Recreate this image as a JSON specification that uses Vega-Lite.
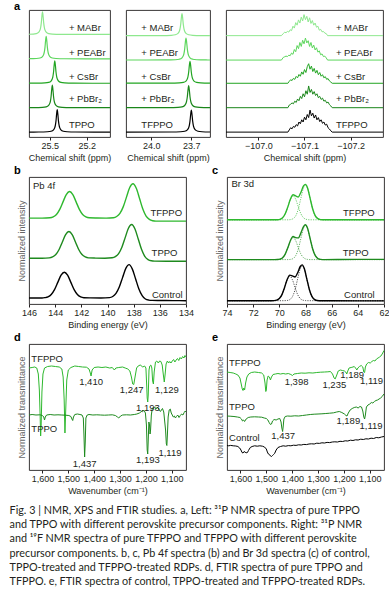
{
"$schema": "https://vega.github.io/schema/vega-lite/v6.json",
"background": "white",
"padding": {"left": 9, "top": 0, "right": 5, "bottom": 0},
"title": {"text": ["Fig. 3 | NMR, XPS and FTIR studies. a, Left: ³¹P NMR spectra of pure TPPO", "and TPPO with different perovskite precursor components. Right: ³¹P NMR", "and ¹⁹F NMR spectra of pure TFPPO and TFPPO with different perovskite", "precursor components. b, c, Pb 4f spectra (b) and Br 3d spectra (c) of control,", "TPPO-treated and TFPPO-treated RDPs. d, FTIR spectra of pure TPPO and", "TFPPO. e, FTIR spectra of control, TPPO-treated and TFPPO-treated RDPs."], "orient": "bottom", "anchor": "start", "frame": "bounds", "font": "Lato", "fontSize": 10.8, "fontWeight": "normal", "lineHeight": 14.2, "color": "#231f20", "offset": 9, "dx": -4},
"datasets": {
"a1": [
{"x":25.67,"y":4.208,"s":"MABr"},{"x":25.61,"y":4.235,"s":"MABr"},{"x":25.59,"y":4.292,"s":"MABr"},{"x":25.58,"y":4.384,"s":"MABr"},{"x":25.575,"y":4.483,"s":"MABr"},{"x":25.57,"y":4.66,"s":"MABr"},{"x":25.565,"y":4.936,"s":"MABr"},{"x":25.56,"y":5.12,"s":"MABr"},{"x":25.555,"y":4.936,"s":"MABr"},{"x":25.55,"y":4.66,"s":"MABr"},{"x":25.545,"y":4.483,"s":"MABr"},{"x":25.54,"y":4.384,"s":"MABr"},{"x":25.53,"y":4.292,"s":"MABr"},{"x":25.51,"y":4.235,"s":"MABr"},{"x":25.48,"y":4.214,"s":"MABr"},{"x":25.41,"y":4.204,"s":"MABr"},{"x":25.01,"y":4.2,"s":"MABr"},
{"x":25.67,"y":3.205,"s":"PEABr"},{"x":25.61,"y":3.214,"s":"PEABr"},{"x":25.58,"y":3.235,"s":"PEABr"},{"x":25.56,"y":3.292,"s":"PEABr"},{"x":25.55,"y":3.384,"s":"PEABr"},{"x":25.545,"y":3.483,"s":"PEABr"},{"x":25.54,"y":3.66,"s":"PEABr"},{"x":25.535,"y":3.936,"s":"PEABr"},{"x":25.53,"y":4.12,"s":"PEABr"},{"x":25.525,"y":3.936,"s":"PEABr"},{"x":25.52,"y":3.66,"s":"PEABr"},{"x":25.515,"y":3.483,"s":"PEABr"},{"x":25.51,"y":3.384,"s":"PEABr"},{"x":25.5,"y":3.292,"s":"PEABr"},{"x":25.48,"y":3.235,"s":"PEABr"},{"x":25.45,"y":3.214,"s":"PEABr"},{"x":25.38,"y":3.204,"s":"PEABr"},{"x":25.01,"y":3.2,"s":"PEABr"},
{"x":25.67,"y":2.202,"s":"CsBr"},{"x":25.61,"y":2.204,"s":"CsBr"},{"x":25.54,"y":2.214,"s":"CsBr"},{"x":25.51,"y":2.235,"s":"CsBr"},{"x":25.49,"y":2.292,"s":"CsBr"},{"x":25.48,"y":2.384,"s":"CsBr"},{"x":25.475,"y":2.483,"s":"CsBr"},{"x":25.47,"y":2.66,"s":"CsBr"},{"x":25.465,"y":2.936,"s":"CsBr"},{"x":25.46,"y":3.12,"s":"CsBr"},{"x":25.455,"y":2.936,"s":"CsBr"},{"x":25.45,"y":2.66,"s":"CsBr"},{"x":25.445,"y":2.483,"s":"CsBr"},{"x":25.44,"y":2.384,"s":"CsBr"},{"x":25.43,"y":2.292,"s":"CsBr"},{"x":25.41,"y":2.235,"s":"CsBr"},{"x":25.38,"y":2.214,"s":"CsBr"},{"x":25.31,"y":2.204,"s":"CsBr"},{"x":25.01,"y":2.2,"s":"CsBr"},
{"x":25.67,"y":1.203,"s":"PbBr2"},{"x":25.63,"y":1.204,"s":"PbBr2"},{"x":25.56,"y":1.214,"s":"PbBr2"},{"x":25.53,"y":1.235,"s":"PbBr2"},{"x":25.51,"y":1.292,"s":"PbBr2"},{"x":25.5,"y":1.384,"s":"PbBr2"},{"x":25.495,"y":1.483,"s":"PbBr2"},{"x":25.49,"y":1.66,"s":"PbBr2"},{"x":25.485,"y":1.936,"s":"PbBr2"},{"x":25.48,"y":2.12,"s":"PbBr2"},{"x":25.475,"y":1.936,"s":"PbBr2"},{"x":25.47,"y":1.66,"s":"PbBr2"},{"x":25.465,"y":1.483,"s":"PbBr2"},{"x":25.46,"y":1.384,"s":"PbBr2"},{"x":25.45,"y":1.292,"s":"PbBr2"},{"x":25.43,"y":1.235,"s":"PbBr2"},{"x":25.4,"y":1.214,"s":"PbBr2"},{"x":25.33,"y":1.204,"s":"PbBr2"},{"x":25.01,"y":1.2,"s":"PbBr2"},
{"x":25.67,"y":0.202,"s":"pure"},{"x":25.59,"y":0.204,"s":"pure"},{"x":25.52,"y":0.214,"s":"pure"},{"x":25.49,"y":0.235,"s":"pure"},{"x":25.47,"y":0.292,"s":"pure"},{"x":25.46,"y":0.384,"s":"pure"},{"x":25.455,"y":0.483,"s":"pure"},{"x":25.45,"y":0.66,"s":"pure"},{"x":25.445,"y":0.936,"s":"pure"},{"x":25.44,"y":1.12,"s":"pure"},{"x":25.435,"y":0.936,"s":"pure"},{"x":25.43,"y":0.66,"s":"pure"},{"x":25.425,"y":0.483,"s":"pure"},{"x":25.42,"y":0.384,"s":"pure"},{"x":25.41,"y":0.292,"s":"pure"},{"x":25.39,"y":0.235,"s":"pure"},{"x":25.36,"y":0.214,"s":"pure"},{"x":25.29,"y":0.204,"s":"pure"},{"x":25.01,"y":0.2,"s":"pure"}
],
"a2": [
{"x":24.19,"y":4.152,"s":"MABr"},{"x":23.92,"y":4.154,"s":"MABr"},{"x":23.85,"y":4.164,"s":"MABr"},{"x":23.82,"y":4.185,"s":"MABr"},{"x":23.8,"y":4.24,"s":"MABr"},{"x":23.79,"y":4.33,"s":"MABr"},{"x":23.785,"y":4.427,"s":"MABr"},{"x":23.78,"y":4.6,"s":"MABr"},{"x":23.775,"y":4.87,"s":"MABr"},{"x":23.77,"y":5.05,"s":"MABr"},{"x":23.765,"y":4.87,"s":"MABr"},{"x":23.76,"y":4.6,"s":"MABr"},{"x":23.755,"y":4.427,"s":"MABr"},{"x":23.75,"y":4.33,"s":"MABr"},{"x":23.74,"y":4.24,"s":"MABr"},{"x":23.72,"y":4.185,"s":"MABr"},{"x":23.69,"y":4.164,"s":"MABr"},{"x":23.62,"y":4.154,"s":"MABr"},{"x":23.56,"y":4.152,"s":"MABr"},
{"x":24.19,"y":3.152,"s":"PEABr"},{"x":23.89,"y":3.154,"s":"PEABr"},{"x":23.82,"y":3.164,"s":"PEABr"},{"x":23.79,"y":3.185,"s":"PEABr"},{"x":23.77,"y":3.24,"s":"PEABr"},{"x":23.76,"y":3.33,"s":"PEABr"},{"x":23.755,"y":3.427,"s":"PEABr"},{"x":23.75,"y":3.6,"s":"PEABr"},{"x":23.745,"y":3.87,"s":"PEABr"},{"x":23.74,"y":4.05,"s":"PEABr"},{"x":23.735,"y":3.87,"s":"PEABr"},{"x":23.73,"y":3.6,"s":"PEABr"},{"x":23.725,"y":3.427,"s":"PEABr"},{"x":23.72,"y":3.33,"s":"PEABr"},{"x":23.71,"y":3.24,"s":"PEABr"},{"x":23.69,"y":3.185,"s":"PEABr"},{"x":23.66,"y":3.164,"s":"PEABr"},{"x":23.59,"y":3.154,"s":"PEABr"},{"x":23.56,"y":3.153,"s":"PEABr"},
{"x":24.19,"y":2.202,"s":"CsBr"},{"x":23.86,"y":2.204,"s":"CsBr"},{"x":23.79,"y":2.214,"s":"CsBr"},{"x":23.76,"y":2.235,"s":"CsBr"},{"x":23.74,"y":2.29,"s":"CsBr"},{"x":23.73,"y":2.38,"s":"CsBr"},{"x":23.725,"y":2.477,"s":"CsBr"},{"x":23.72,"y":2.65,"s":"CsBr"},{"x":23.715,"y":2.92,"s":"CsBr"},{"x":23.71,"y":3.1,"s":"CsBr"},{"x":23.705,"y":2.92,"s":"CsBr"},{"x":23.7,"y":2.65,"s":"CsBr"},{"x":23.695,"y":2.477,"s":"CsBr"},{"x":23.69,"y":2.38,"s":"CsBr"},{"x":23.68,"y":2.29,"s":"CsBr"},{"x":23.66,"y":2.235,"s":"CsBr"},{"x":23.63,"y":2.214,"s":"CsBr"},{"x":23.56,"y":2.204,"s":"CsBr"},
{"x":24.19,"y":1.202,"s":"PbBr2"},{"x":23.87,"y":1.204,"s":"PbBr2"},{"x":23.8,"y":1.214,"s":"PbBr2"},{"x":23.77,"y":1.235,"s":"PbBr2"},{"x":23.75,"y":1.29,"s":"PbBr2"},{"x":23.74,"y":1.38,"s":"PbBr2"},{"x":23.735,"y":1.477,"s":"PbBr2"},{"x":23.73,"y":1.65,"s":"PbBr2"},{"x":23.725,"y":1.92,"s":"PbBr2"},{"x":23.72,"y":2.1,"s":"PbBr2"},{"x":23.715,"y":1.92,"s":"PbBr2"},{"x":23.71,"y":1.65,"s":"PbBr2"},{"x":23.705,"y":1.477,"s":"PbBr2"},{"x":23.7,"y":1.38,"s":"PbBr2"},{"x":23.69,"y":1.29,"s":"PbBr2"},{"x":23.67,"y":1.235,"s":"PbBr2"},{"x":23.64,"y":1.214,"s":"PbBr2"},{"x":23.57,"y":1.204,"s":"PbBr2"},{"x":23.56,"y":1.204,"s":"PbBr2"},
{"x":24.19,"y":0.202,"s":"pure"},{"x":23.85,"y":0.204,"s":"pure"},{"x":23.78,"y":0.214,"s":"pure"},{"x":23.75,"y":0.235,"s":"pure"},{"x":23.73,"y":0.29,"s":"pure"},{"x":23.72,"y":0.38,"s":"pure"},{"x":23.715,"y":0.477,"s":"pure"},{"x":23.71,"y":0.65,"s":"pure"},{"x":23.705,"y":0.92,"s":"pure"},{"x":23.7,"y":1.1,"s":"pure"},{"x":23.695,"y":0.92,"s":"pure"},{"x":23.69,"y":0.65,"s":"pure"},{"x":23.685,"y":0.477,"s":"pure"},{"x":23.68,"y":0.38,"s":"pure"},{"x":23.67,"y":0.29,"s":"pure"},{"x":23.65,"y":0.235,"s":"pure"},{"x":23.62,"y":0.214,"s":"pure"},{"x":23.56,"y":0.205,"s":"pure"}
],
"a3": [
{"x":-106.93,"y":4.15,"s":"MABr"},{"x":-107.05,"y":4.15,"s":"MABr"},{"x":-107.054,"y":4.236,"s":"MABr"},{"x":-107.057,"y":4.288,"s":"MABr"},{"x":-107.06,"y":4.27,"s":"MABr"},{"x":-107.063,"y":4.322,"s":"MABr"},{"x":-107.066,"y":4.296,"s":"MABr"},{"x":-107.069,"y":4.391,"s":"MABr"},{"x":-107.072,"y":4.356,"s":"MABr"},{"x":-107.075,"y":4.537,"s":"MABr"},{"x":-107.078,"y":4.46,"s":"MABr"},{"x":-107.081,"y":4.683,"s":"MABr"},{"x":-107.084,"y":4.58,"s":"MABr"},{"x":-107.087,"y":4.795,"s":"MABr"},{"x":-107.09,"y":4.666,"s":"MABr"},{"x":-107.093,"y":4.907,"s":"MABr"},{"x":-107.096,"y":4.752,"s":"MABr"},{"x":-107.099,"y":5.01,"s":"MABr"},{"x":-107.102,"y":4.804,"s":"MABr"},{"x":-107.105,"y":4.941,"s":"MABr"},{"x":-107.108,"y":4.709,"s":"MABr"},{"x":-107.111,"y":4.881,"s":"MABr"},{"x":-107.114,"y":4.649,"s":"MABr"},{"x":-107.117,"y":4.769,"s":"MABr"},{"x":-107.12,"y":4.58,"s":"MABr"},{"x":-107.123,"y":4.666,"s":"MABr"},{"x":-107.126,"y":4.494,"s":"MABr"},{"x":-107.129,"y":4.537,"s":"MABr"},{"x":-107.132,"y":4.374,"s":"MABr"},{"x":-107.135,"y":4.408,"s":"MABr"},{"x":-107.138,"y":4.305,"s":"MABr"},{"x":-107.141,"y":4.322,"s":"MABr"},{"x":-107.144,"y":4.253,"s":"MABr"},{"x":-107.147,"y":4.236,"s":"MABr"},{"x":-107.15,"y":4.15,"s":"MABr"},{"x":-107.27,"y":4.15,"s":"MABr"},
{"x":-106.93,"y":3.15,"s":"PEABr"},{"x":-107.05,"y":3.15,"s":"PEABr"},{"x":-107.054,"y":3.258,"s":"PEABr"},{"x":-107.057,"y":3.285,"s":"PEABr"},{"x":-107.06,"y":3.312,"s":"PEABr"},{"x":-107.063,"y":3.294,"s":"PEABr"},{"x":-107.066,"y":3.348,"s":"PEABr"},{"x":-107.069,"y":3.33,"s":"PEABr"},{"x":-107.072,"y":3.438,"s":"PEABr"},{"x":-107.075,"y":3.384,"s":"PEABr"},{"x":-107.078,"y":3.582,"s":"PEABr"},{"x":-107.081,"y":3.492,"s":"PEABr"},{"x":-107.084,"y":3.744,"s":"PEABr"},{"x":-107.087,"y":3.618,"s":"PEABr"},{"x":-107.09,"y":3.87,"s":"PEABr"},{"x":-107.093,"y":3.708,"s":"PEABr"},{"x":-107.096,"y":3.96,"s":"PEABr"},{"x":-107.099,"y":3.816,"s":"PEABr"},{"x":-107.102,"y":4.05,"s":"PEABr"},{"x":-107.105,"y":3.852,"s":"PEABr"},{"x":-107.108,"y":3.942,"s":"PEABr"},{"x":-107.111,"y":3.708,"s":"PEABr"},{"x":-107.114,"y":3.87,"s":"PEABr"},{"x":-107.117,"y":3.645,"s":"PEABr"},{"x":-107.12,"y":3.762,"s":"PEABr"},{"x":-107.123,"y":3.564,"s":"PEABr"},{"x":-107.126,"y":3.654,"s":"PEABr"},{"x":-107.129,"y":3.474,"s":"PEABr"},{"x":-107.132,"y":3.528,"s":"PEABr"},{"x":-107.135,"y":3.366,"s":"PEABr"},{"x":-107.138,"y":3.402,"s":"PEABr"},{"x":-107.141,"y":3.294,"s":"PEABr"},{"x":-107.144,"y":3.312,"s":"PEABr"},{"x":-107.147,"y":3.24,"s":"PEABr"},{"x":-107.15,"y":3.15,"s":"PEABr"},{"x":-107.27,"y":3.15,"s":"PEABr"},
{"x":-106.93,"y":2.2,"s":"CsBr"},{"x":-107.064,"y":2.2,"s":"CsBr"},{"x":-107.067,"y":2.28,"s":"CsBr"},{"x":-107.07,"y":2.344,"s":"CsBr"},{"x":-107.073,"y":2.312,"s":"CsBr"},{"x":-107.076,"y":2.4,"s":"CsBr"},{"x":-107.079,"y":2.36,"s":"CsBr"},{"x":-107.082,"y":2.48,"s":"CsBr"},{"x":-107.085,"y":2.424,"s":"CsBr"},{"x":-107.088,"y":2.56,"s":"CsBr"},{"x":-107.091,"y":2.488,"s":"CsBr"},{"x":-107.094,"y":2.664,"s":"CsBr"},{"x":-107.097,"y":2.568,"s":"CsBr"},{"x":-107.1,"y":2.76,"s":"CsBr"},{"x":-107.103,"y":2.64,"s":"CsBr"},{"x":-107.106,"y":2.88,"s":"CsBr"},{"x":-107.109,"y":3.0,"s":"CsBr"},{"x":-107.112,"y":2.776,"s":"CsBr"},{"x":-107.115,"y":2.904,"s":"CsBr"},{"x":-107.118,"y":2.68,"s":"CsBr"},{"x":-107.121,"y":2.808,"s":"CsBr"},{"x":-107.124,"y":2.616,"s":"CsBr"},{"x":-107.127,"y":2.728,"s":"CsBr"},{"x":-107.13,"y":2.552,"s":"CsBr"},{"x":-107.133,"y":2.64,"s":"CsBr"},{"x":-107.136,"y":2.488,"s":"CsBr"},{"x":-107.139,"y":2.552,"s":"CsBr"},{"x":-107.142,"y":2.424,"s":"CsBr"},{"x":-107.145,"y":2.472,"s":"CsBr"},{"x":-107.148,"y":2.36,"s":"CsBr"},{"x":-107.151,"y":2.392,"s":"CsBr"},{"x":-107.154,"y":2.296,"s":"CsBr"},{"x":-107.157,"y":2.248,"s":"CsBr"},{"x":-107.16,"y":2.2,"s":"CsBr"},{"x":-107.27,"y":2.2,"s":"CsBr"},
{"x":-106.93,"y":1.2,"s":"PbBr2"},{"x":-107.064,"y":1.2,"s":"PbBr2"},{"x":-107.067,"y":1.307,"s":"PbBr2"},{"x":-107.07,"y":1.342,"s":"PbBr2"},{"x":-107.073,"y":1.396,"s":"PbBr2"},{"x":-107.076,"y":1.36,"s":"PbBr2"},{"x":-107.079,"y":1.467,"s":"PbBr2"},{"x":-107.082,"y":1.414,"s":"PbBr2"},{"x":-107.085,"y":1.556,"s":"PbBr2"},{"x":-107.088,"y":1.485,"s":"PbBr2"},{"x":-107.091,"y":1.663,"s":"PbBr2"},{"x":-107.094,"y":1.574,"s":"PbBr2"},{"x":-107.097,"y":1.77,"s":"PbBr2"},{"x":-107.1,"y":1.645,"s":"PbBr2"},{"x":-107.103,"y":1.894,"s":"PbBr2"},{"x":-107.106,"y":1.752,"s":"PbBr2"},{"x":-107.109,"y":2.09,"s":"PbBr2"},{"x":-107.112,"y":1.823,"s":"PbBr2"},{"x":-107.115,"y":1.948,"s":"PbBr2"},{"x":-107.118,"y":1.752,"s":"PbBr2"},{"x":-107.121,"y":1.859,"s":"PbBr2"},{"x":-107.124,"y":1.698,"s":"PbBr2"},{"x":-107.127,"y":1.77,"s":"PbBr2"},{"x":-107.13,"y":1.609,"s":"PbBr2"},{"x":-107.133,"y":1.663,"s":"PbBr2"},{"x":-107.136,"y":1.538,"s":"PbBr2"},{"x":-107.139,"y":1.592,"s":"PbBr2"},{"x":-107.142,"y":1.467,"s":"PbBr2"},{"x":-107.145,"y":1.503,"s":"PbBr2"},{"x":-107.148,"y":1.396,"s":"PbBr2"},{"x":-107.151,"y":1.431,"s":"PbBr2"},{"x":-107.154,"y":1.325,"s":"PbBr2"},{"x":-107.157,"y":1.271,"s":"PbBr2"},{"x":-107.16,"y":1.2,"s":"PbBr2"},{"x":-107.27,"y":1.2,"s":"PbBr2"},
{"x":-106.93,"y":0.2,"s":"pure"},{"x":-107.064,"y":0.2,"s":"pure"},{"x":-107.067,"y":0.29,"s":"pure"},{"x":-107.07,"y":0.38,"s":"pure"},{"x":-107.073,"y":0.335,"s":"pure"},{"x":-107.076,"y":0.434,"s":"pure"},{"x":-107.079,"y":0.398,"s":"pure"},{"x":-107.082,"y":0.506,"s":"pure"},{"x":-107.085,"y":0.452,"s":"pure"},{"x":-107.088,"y":0.614,"s":"pure"},{"x":-107.091,"y":0.542,"s":"pure"},{"x":-107.094,"y":0.704,"s":"pure"},{"x":-107.097,"y":0.614,"s":"pure"},{"x":-107.1,"y":0.812,"s":"pure"},{"x":-107.103,"y":0.704,"s":"pure"},{"x":-107.106,"y":0.92,"s":"pure"},{"x":-107.109,"y":0.794,"s":"pure"},{"x":-107.112,"y":1.1,"s":"pure"},{"x":-107.115,"y":0.866,"s":"pure"},{"x":-107.118,"y":0.974,"s":"pure"},{"x":-107.121,"y":0.776,"s":"pure"},{"x":-107.124,"y":0.902,"s":"pure"},{"x":-107.127,"y":0.704,"s":"pure"},{"x":-107.13,"y":0.794,"s":"pure"},{"x":-107.133,"y":0.632,"s":"pure"},{"x":-107.136,"y":0.704,"s":"pure"},{"x":-107.139,"y":0.56,"s":"pure"},{"x":-107.142,"y":0.614,"s":"pure"},{"x":-107.145,"y":0.488,"s":"pure"},{"x":-107.148,"y":0.524,"s":"pure"},{"x":-107.151,"y":0.38,"s":"pure"},{"x":-107.154,"y":0.326,"s":"pure"},{"x":-107.157,"y":0.254,"s":"pure"},{"x":-107.16,"y":0.2,"s":"pure"},{"x":-107.27,"y":0.2,"s":"pure"}
],
"a1t": [{"x":25.345,"y":4.45,"t":"+ MABr"},{"x":25.345,"y":3.44,"t":"+ PEABr"},{"x":25.345,"y":2.47,"t":"+ CsBr"},{"x":25.345,"y":1.55,"t":"+ PbBr₂"},{"x":25.345,"y":0.49,"t":"TPPO"}],
"a2t": [{"x":24.075,"y":4.45,"t":"+ MABr"},{"x":24.075,"y":3.44,"t":"+ PEABr"},{"x":24.075,"y":2.47,"t":"+ CsBr"},{"x":24.075,"y":1.55,"t":"+ PbBr₂"},{"x":24.075,"y":0.49,"t":"TFPPO"}],
"a3t": [{"x":-107.168,"y":4.45,"t":"+ MABr"},{"x":-107.168,"y":3.44,"t":"+ PEABr"},{"x":-107.168,"y":2.47,"t":"+ CsBr"},{"x":-107.168,"y":1.55,"t":"+ PbBr₂"},{"x":-107.168,"y":0.49,"t":"TFPPO"}],
"b": [
{"x":146,"y":0.6,"s":"Control"},{"x":145,"y":0.6,"s":"Control"},{"x":144.8,"y":0.63,"s":"Control"},{"x":144.55,"y":0.71,"s":"Control"},{"x":144.3,"y":0.95,"s":"Control"},{"x":144.05,"y":1.44,"s":"Control"},{"x":143.8,"y":2.16,"s":"Control"},{"x":143.55,"y":2.87,"s":"Control"},{"x":143.3,"y":3.17,"s":"Control"},{"x":143.05,"y":2.87,"s":"Control"},{"x":142.8,"y":2.16,"s":"Control"},{"x":142.55,"y":1.44,"s":"Control"},{"x":142.3,"y":0.95,"s":"Control"},{"x":142.05,"y":0.71,"s":"Control"},{"x":141.8,"y":0.63,"s":"Control"},{"x":141.3,"y":0.61,"s":"Control"},{"x":140.5,"y":0.6,"s":"Control"},{"x":139.85,"y":0.64,"s":"Control"},{"x":139.6,"y":0.75,"s":"Control"},{"x":139.35,"y":1.06,"s":"Control"},{"x":139.1,"y":1.69,"s":"Control"},{"x":138.85,"y":2.63,"s":"Control"},{"x":138.6,"y":3.55,"s":"Control"},{"x":138.35,"y":3.93,"s":"Control"},{"x":138.1,"y":3.48,"s":"Control"},{"x":137.85,"y":2.5,"s":"Control"},{"x":137.6,"y":1.5,"s":"Control"},{"x":137.35,"y":0.83,"s":"Control"},{"x":137.1,"y":0.5,"s":"Control"},{"x":136.85,"y":0.39,"s":"Control"},{"x":136.6,"y":0.36,"s":"Control"},{"x":136,"y":0.35,"s":"Control"},{"x":135,"y":0.34,"s":"Control"},{"x":134,"y":0.33,"s":"Control"},
{"x":146,"y":4.57,"s":"TPPO"},{"x":145,"y":4.57,"s":"TPPO"},{"x":144.45,"y":4.6,"s":"TPPO"},{"x":144.2,"y":4.69,"s":"TPPO"},{"x":143.95,"y":4.93,"s":"TPPO"},{"x":143.7,"y":5.44,"s":"TPPO"},{"x":143.45,"y":6.19,"s":"TPPO"},{"x":143.2,"y":6.92,"s":"TPPO"},{"x":142.95,"y":7.23,"s":"TPPO"},{"x":142.7,"y":6.92,"s":"TPPO"},{"x":142.45,"y":6.19,"s":"TPPO"},{"x":142.2,"y":5.44,"s":"TPPO"},{"x":141.95,"y":4.93,"s":"TPPO"},{"x":141.7,"y":4.69,"s":"TPPO"},{"x":141.45,"y":4.6,"s":"TPPO"},{"x":140.9,"y":4.58,"s":"TPPO"},{"x":140.2,"y":4.57,"s":"TPPO"},{"x":139.65,"y":4.61,"s":"TPPO"},{"x":139.4,"y":4.72,"s":"TPPO"},{"x":139.15,"y":5.03,"s":"TPPO"},{"x":138.9,"y":5.67,"s":"TPPO"},{"x":138.65,"y":6.62,"s":"TPPO"},{"x":138.4,"y":7.56,"s":"TPPO"},{"x":138.15,"y":7.93,"s":"TPPO"},{"x":137.9,"y":7.48,"s":"TPPO"},{"x":137.65,"y":6.48,"s":"TPPO"},{"x":137.4,"y":5.46,"s":"TPPO"},{"x":137.15,"y":4.76,"s":"TPPO"},{"x":136.9,"y":4.43,"s":"TPPO"},{"x":136.65,"y":4.31,"s":"TPPO"},{"x":136.4,"y":4.28,"s":"TPPO"},{"x":135.5,"y":4.27,"s":"TPPO"},{"x":134,"y":4.27,"s":"TPPO"},
{"x":146,"y":8.57,"s":"TFPPO"},{"x":145,"y":8.57,"s":"TFPPO"},{"x":144.4,"y":8.6,"s":"TFPPO"},{"x":144.15,"y":8.69,"s":"TFPPO"},{"x":143.9,"y":8.93,"s":"TFPPO"},{"x":143.65,"y":9.44,"s":"TFPPO"},{"x":143.4,"y":10.19,"s":"TFPPO"},{"x":143.15,"y":10.92,"s":"TFPPO"},{"x":142.9,"y":11.23,"s":"TFPPO"},{"x":142.65,"y":10.92,"s":"TFPPO"},{"x":142.4,"y":10.19,"s":"TFPPO"},{"x":142.15,"y":9.44,"s":"TFPPO"},{"x":141.9,"y":8.93,"s":"TFPPO"},{"x":141.65,"y":8.69,"s":"TFPPO"},{"x":141.4,"y":8.6,"s":"TFPPO"},{"x":140.8,"y":8.58,"s":"TFPPO"},{"x":140.1,"y":8.57,"s":"TFPPO"},{"x":139.55,"y":8.61,"s":"TFPPO"},{"x":139.3,"y":8.73,"s":"TFPPO"},{"x":139.05,"y":9.04,"s":"TFPPO"},{"x":138.8,"y":9.69,"s":"TFPPO"},{"x":138.55,"y":10.66,"s":"TFPPO"},{"x":138.3,"y":11.62,"s":"TFPPO"},{"x":138.05,"y":12.0,"s":"TFPPO"},{"x":137.8,"y":11.54,"s":"TFPPO"},{"x":137.55,"y":10.52,"s":"TFPPO"},{"x":137.3,"y":9.48,"s":"TFPPO"},{"x":137.05,"y":8.77,"s":"TFPPO"},{"x":136.8,"y":8.44,"s":"TFPPO"},{"x":136.55,"y":8.31,"s":"TFPPO"},{"x":136.3,"y":8.27,"s":"TFPPO"},{"x":135.5,"y":8.27,"s":"TFPPO"},{"x":134,"y":8.27,"s":"TFPPO"}
],
"bl": [{"x":145.7,"y":11.8,"t":"Pb 4f"}],
"br": [{"x":134.3,"y":9.07,"t":"TFPPO"},{"x":134.65,"y":5.07,"t":"TPPO"},{"x":134.26,"y":0.9,"t":"Control"}],
"c": [
{"x":74,"y":0.33,"s":"Control"},{"x":72,"y":0.33,"s":"Control"},{"x":71,"y":0.33,"s":"Control"},{"x":70.6,"y":0.33,"s":"Control"},{"x":70.4,"y":0.34,"s":"Control"},{"x":70.2,"y":0.38,"s":"Control"},{"x":70,"y":0.54,"s":"Control"},{"x":69.8,"y":0.94,"s":"Control"},{"x":69.6,"y":1.65,"s":"Control"},{"x":69.4,"y":2.45,"s":"Control"},{"x":69.2,"y":2.88,"s":"Control"},{"x":69,"y":2.8,"s":"Control"},{"x":68.8,"y":2.7,"s":"Control"},{"x":68.6,"y":3.12,"s":"Control"},{"x":68.4,"y":3.74,"s":"Control"},{"x":68.25,"y":3.9,"s":"Control"},{"x":68.1,"y":3.56,"s":"Control"},{"x":67.9,"y":2.51,"s":"Control"},{"x":67.7,"y":1.42,"s":"Control"},{"x":67.5,"y":0.73,"s":"Control"},{"x":67.3,"y":0.44,"s":"Control"},{"x":67.1,"y":0.35,"s":"Control"},{"x":66.8,"y":0.33,"s":"Control"},{"x":66,"y":0.32,"s":"Control"},{"x":64,"y":0.31,"s":"Control"},{"x":62,"y":0.31,"s":"Control"},
{"x":74,"y":4.43,"s":"TPPO"},{"x":72,"y":4.43,"s":"TPPO"},{"x":70.75,"y":4.43,"s":"TPPO"},{"x":70.35,"y":4.43,"s":"TPPO"},{"x":70.15,"y":4.44,"s":"TPPO"},{"x":69.95,"y":4.48,"s":"TPPO"},{"x":69.75,"y":4.62,"s":"TPPO"},{"x":69.55,"y":4.98,"s":"TPPO"},{"x":69.35,"y":5.62,"s":"TPPO"},{"x":69.15,"y":6.34,"s":"TPPO"},{"x":68.95,"y":6.73,"s":"TPPO"},{"x":68.75,"y":6.62,"s":"TPPO"},{"x":68.55,"y":6.6,"s":"TPPO"},{"x":68.35,"y":7.1,"s":"TPPO"},{"x":68.15,"y":7.73,"s":"TPPO"},{"x":68,"y":7.9,"s":"TPPO"},{"x":67.85,"y":7.57,"s":"TPPO"},{"x":67.65,"y":6.55,"s":"TPPO"},{"x":67.45,"y":5.49,"s":"TPPO"},{"x":67.25,"y":4.82,"s":"TPPO"},{"x":67.05,"y":4.53,"s":"TPPO"},{"x":66.85,"y":4.45,"s":"TPPO"},{"x":66.55,"y":4.43,"s":"TPPO"},{"x":64,"y":4.45,"s":"TPPO"},{"x":62,"y":4.45,"s":"TPPO"},
{"x":74,"y":8.4,"s":"TFPPO"},{"x":72,"y":8.4,"s":"TFPPO"},{"x":70.75,"y":8.4,"s":"TFPPO"},{"x":70.35,"y":8.4,"s":"TFPPO"},{"x":70.15,"y":8.41,"s":"TFPPO"},{"x":69.95,"y":8.45,"s":"TFPPO"},{"x":69.75,"y":8.6,"s":"TFPPO"},{"x":69.55,"y":9.0,"s":"TFPPO"},{"x":69.35,"y":9.69,"s":"TFPPO"},{"x":69.15,"y":10.47,"s":"TFPPO"},{"x":68.95,"y":10.9,"s":"TFPPO"},{"x":68.75,"y":10.78,"s":"TFPPO"},{"x":68.55,"y":10.68,"s":"TFPPO"},{"x":68.35,"y":11.15,"s":"TFPPO"},{"x":68.15,"y":11.78,"s":"TFPPO"},{"x":68,"y":11.93,"s":"TFPPO"},{"x":67.85,"y":11.6,"s":"TFPPO"},{"x":67.65,"y":10.56,"s":"TFPPO"},{"x":67.45,"y":9.48,"s":"TFPPO"},{"x":67.25,"y":8.79,"s":"TFPPO"},{"x":67.05,"y":8.51,"s":"TFPPO"},{"x":66.85,"y":8.42,"s":"TFPPO"},{"x":66.55,"y":8.4,"s":"TFPPO"},{"x":64,"y":8.4,"s":"TFPPO"},{"x":62,"y":8.4,"s":"TFPPO"}
],
"cc": [
{"x":74,"y":0.33,"s":"Control","c":"A"},{"x":69.7,"y":0.33,"s":"Control","c":"A"},{"x":69.4,"y":0.35,"s":"Control","c":"A"},{"x":69.2,"y":0.44,"s":"Control","c":"A"},{"x":69,"y":0.73,"s":"Control","c":"A"},{"x":68.8,"y":1.42,"s":"Control","c":"A"},{"x":68.6,"y":2.51,"s":"Control","c":"A"},{"x":68.4,"y":3.53,"s":"Control","c":"A"},{"x":68.25,"y":3.83,"s":"Control","c":"A"},{"x":68.1,"y":3.53,"s":"Control","c":"A"},{"x":67.9,"y":2.51,"s":"Control","c":"A"},{"x":67.7,"y":1.42,"s":"Control","c":"A"},{"x":67.5,"y":0.73,"s":"Control","c":"A"},{"x":67.3,"y":0.44,"s":"Control","c":"A"},{"x":67.1,"y":0.35,"s":"Control","c":"A"},{"x":66.8,"y":0.33,"s":"Control","c":"A"},{"x":62,"y":0.33,"s":"Control","c":"A"},
{"x":74,"y":0.33,"s":"Control","c":"B"},{"x":70.6,"y":0.33,"s":"Control","c":"B"},{"x":70.4,"y":0.34,"s":"Control","c":"B"},{"x":70.2,"y":0.38,"s":"Control","c":"B"},{"x":70,"y":0.54,"s":"Control","c":"B"},{"x":69.8,"y":0.94,"s":"Control","c":"B"},{"x":69.6,"y":1.65,"s":"Control","c":"B"},{"x":69.4,"y":2.42,"s":"Control","c":"B"},{"x":69.2,"y":2.77,"s":"Control","c":"B"},{"x":69,"y":2.42,"s":"Control","c":"B"},{"x":68.8,"y":1.65,"s":"Control","c":"B"},{"x":68.6,"y":0.94,"s":"Control","c":"B"},{"x":68.4,"y":0.54,"s":"Control","c":"B"},{"x":68.2,"y":0.38,"s":"Control","c":"B"},{"x":68,"y":0.34,"s":"Control","c":"B"},{"x":67.8,"y":0.33,"s":"Control","c":"B"},{"x":62,"y":0.33,"s":"Control","c":"B"},
{"x":74,"y":4.43,"s":"TPPO","c":"A"},{"x":69.35,"y":4.43,"s":"TPPO","c":"A"},{"x":69.15,"y":4.45,"s":"TPPO","c":"A"},{"x":68.95,"y":4.53,"s":"TPPO","c":"A"},{"x":68.75,"y":4.82,"s":"TPPO","c":"A"},{"x":68.55,"y":5.49,"s":"TPPO","c":"A"},{"x":68.35,"y":6.55,"s":"TPPO","c":"A"},{"x":68.15,"y":7.55,"s":"TPPO","c":"A"},{"x":68,"y":7.83,"s":"TPPO","c":"A"},{"x":67.85,"y":7.55,"s":"TPPO","c":"A"},{"x":67.65,"y":6.55,"s":"TPPO","c":"A"},{"x":67.45,"y":5.49,"s":"TPPO","c":"A"},{"x":67.25,"y":4.82,"s":"TPPO","c":"A"},{"x":67.05,"y":4.53,"s":"TPPO","c":"A"},{"x":66.85,"y":4.45,"s":"TPPO","c":"A"},{"x":66.55,"y":4.43,"s":"TPPO","c":"A"},{"x":62,"y":4.43,"s":"TPPO","c":"A"},
{"x":74,"y":4.43,"s":"TPPO","c":"B"},{"x":70.35,"y":4.43,"s":"TPPO","c":"B"},{"x":69.95,"y":4.48,"s":"TPPO","c":"B"},{"x":69.75,"y":4.62,"s":"TPPO","c":"B"},{"x":69.55,"y":4.98,"s":"TPPO","c":"B"},{"x":69.35,"y":5.62,"s":"TPPO","c":"B"},{"x":69.15,"y":6.32,"s":"TPPO","c":"B"},{"x":68.95,"y":6.63,"s":"TPPO","c":"B"},{"x":68.75,"y":6.32,"s":"TPPO","c":"B"},{"x":68.55,"y":5.62,"s":"TPPO","c":"B"},{"x":68.35,"y":4.98,"s":"TPPO","c":"B"},{"x":68.15,"y":4.62,"s":"TPPO","c":"B"},{"x":68,"y":4.5,"s":"TPPO","c":"B"},{"x":67.85,"y":4.45,"s":"TPPO","c":"B"},{"x":67.65,"y":4.43,"s":"TPPO","c":"B"},{"x":62,"y":4.43,"s":"TPPO","c":"B"},
{"x":74,"y":8.4,"s":"TFPPO","c":"A"},{"x":69.35,"y":8.4,"s":"TFPPO","c":"A"},{"x":69.15,"y":8.42,"s":"TFPPO","c":"A"},{"x":68.95,"y":8.51,"s":"TFPPO","c":"A"},{"x":68.75,"y":8.79,"s":"TFPPO","c":"A"},{"x":68.55,"y":9.48,"s":"TFPPO","c":"A"},{"x":68.35,"y":10.56,"s":"TFPPO","c":"A"},{"x":68.15,"y":11.57,"s":"TFPPO","c":"A"},{"x":68,"y":11.86,"s":"TFPPO","c":"A"},{"x":67.85,"y":11.57,"s":"TFPPO","c":"A"},{"x":67.65,"y":10.56,"s":"TFPPO","c":"A"},{"x":67.45,"y":9.48,"s":"TFPPO","c":"A"},{"x":67.25,"y":8.79,"s":"TFPPO","c":"A"},{"x":67.05,"y":8.51,"s":"TFPPO","c":"A"},{"x":66.85,"y":8.42,"s":"TFPPO","c":"A"},{"x":66.55,"y":8.4,"s":"TFPPO","c":"A"},{"x":62,"y":8.4,"s":"TFPPO","c":"A"},
{"x":74,"y":8.4,"s":"TFPPO","c":"B"},{"x":70.35,"y":8.4,"s":"TFPPO","c":"B"},{"x":69.95,"y":8.45,"s":"TFPPO","c":"B"},{"x":69.75,"y":8.6,"s":"TFPPO","c":"B"},{"x":69.55,"y":9.0,"s":"TFPPO","c":"B"},{"x":69.35,"y":9.69,"s":"TFPPO","c":"B"},{"x":69.15,"y":10.45,"s":"TFPPO","c":"B"},{"x":68.95,"y":10.79,"s":"TFPPO","c":"B"},{"x":68.75,"y":10.45,"s":"TFPPO","c":"B"},{"x":68.55,"y":9.69,"s":"TFPPO","c":"B"},{"x":68.35,"y":9.0,"s":"TFPPO","c":"B"},{"x":68.15,"y":8.6,"s":"TFPPO","c":"B"},{"x":68,"y":8.47,"s":"TFPPO","c":"B"},{"x":67.85,"y":8.42,"s":"TFPPO","c":"B"},{"x":67.65,"y":8.4,"s":"TFPPO","c":"B"},{"x":62,"y":8.4,"s":"TFPPO","c":"B"}
],
"cl": [{"x":73.66,"y":11.93,"t":"Br 3d"}],
"cr": [{"x":62.71,"y":9.07,"t":"TFPPO"},{"x":63.17,"y":5.07,"t":"TPPO"},{"x":62.71,"y":0.9,"t":"Control"}],
"d": [
{"x":1652,"y":10.2,"s":"TFPPO"},{"x":1640,"y":10.25,"s":"TFPPO"},{"x":1630,"y":10.3,"s":"TFPPO"},{"x":1622,"y":10.2,"s":"TFPPO"},{"x":1616,"y":9.6,"s":"TFPPO"},{"x":1612,"y":8.0,"s":"TFPPO"},{"x":1609,"y":5.5,"s":"TFPPO"},{"x":1607,"y":3.4,"s":"TFPPO"},{"x":1605,"y":4.5,"s":"TFPPO"},{"x":1602,"y":7.8,"s":"TFPPO"},{"x":1598,"y":9.6,"s":"TFPPO"},{"x":1592,"y":10.2,"s":"TFPPO"},{"x":1580,"y":10.35,"s":"TFPPO"},{"x":1565,"y":10.4,"s":"TFPPO"},{"x":1550,"y":10.35,"s":"TFPPO"},{"x":1535,"y":10.3,"s":"TFPPO"},{"x":1525,"y":10.1,"s":"TFPPO"},{"x":1520,"y":9.3,"s":"TFPPO"},{"x":1516,"y":7.0,"s":"TFPPO"},{"x":1513,"y":3.7,"s":"TFPPO"},{"x":1510,"y":6.0,"s":"TFPPO"},{"x":1506,"y":9.0,"s":"TFPPO"},{"x":1500,"y":10.0,"s":"TFPPO"},{"x":1490,"y":10.25,"s":"TFPPO"},{"x":1475,"y":10.4,"s":"TFPPO"},{"x":1460,"y":10.35,"s":"TFPPO"},{"x":1445,"y":10.3,"s":"TFPPO"},{"x":1430,"y":10.28,"s":"TFPPO"},{"x":1420,"y":10.1,"s":"TFPPO"},{"x":1415,"y":9.7,"s":"TFPPO"},{"x":1412,"y":9.4,"s":"TFPPO"},{"x":1408,"y":10.0,"s":"TFPPO"},{"x":1400,"y":10.25,"s":"TFPPO"},{"x":1385,"y":10.3,"s":"TFPPO"},{"x":1370,"y":10.25,"s":"TFPPO"},{"x":1355,"y":10.3,"s":"TFPPO"},{"x":1340,"y":10.2,"s":"TFPPO"},{"x":1330,"y":10.25,"s":"TFPPO"},{"x":1322,"y":10.0,"s":"TFPPO"},{"x":1316,"y":10.2,"s":"TFPPO"},{"x":1305,"y":10.25,"s":"TFPPO"},{"x":1290,"y":10.3,"s":"TFPPO"},{"x":1280,"y":10.2,"s":"TFPPO"},{"x":1270,"y":10.1,"s":"TFPPO"},{"x":1262,"y":9.9,"s":"TFPPO"},{"x":1256,"y":9.3,"s":"TFPPO"},{"x":1251,"y":8.6,"s":"TFPPO"},{"x":1247,"y":8.55,"s":"TFPPO"},{"x":1242,"y":9.3,"s":"TFPPO"},{"x":1236,"y":10.2,"s":"TFPPO"},{"x":1230,"y":10.4,"s":"TFPPO"},{"x":1222,"y":10.5,"s":"TFPPO"},{"x":1212,"y":10.3,"s":"TFPPO"},{"x":1205,"y":10.4,"s":"TFPPO"},{"x":1200,"y":10.2,"s":"TFPPO"},{"x":1197,"y":8.5,"s":"TFPPO"},{"x":1195,"y":7.2,"s":"TFPPO"},{"x":1193,"y":6.8,"s":"TFPPO"},{"x":1191,"y":7.5,"s":"TFPPO"},{"x":1188,"y":10.0,"s":"TFPPO"},{"x":1185,"y":10.4,"s":"TFPPO"},{"x":1181,"y":10.5,"s":"TFPPO"},{"x":1177,"y":10.2,"s":"TFPPO"},{"x":1174,"y":8.9,"s":"TFPPO"},{"x":1171,"y":8.6,"s":"TFPPO"},{"x":1168,"y":9.8,"s":"TFPPO"},{"x":1163,"y":10.8,"s":"TFPPO"},{"x":1158,"y":10.9,"s":"TFPPO"},{"x":1152,"y":10.7,"s":"TFPPO"},{"x":1147,"y":10.9,"s":"TFPPO"},{"x":1142,"y":10.85,"s":"TFPPO"},{"x":1137,"y":10.5,"s":"TFPPO"},{"x":1133,"y":9.6,"s":"TFPPO"},{"x":1129,"y":8.8,"s":"TFPPO"},{"x":1126,"y":9.5,"s":"TFPPO"},{"x":1122,"y":10.6,"s":"TFPPO"},{"x":1117,"y":10.9,"s":"TFPPO"},{"x":1112,"y":10.7,"s":"TFPPO"},{"x":1108,"y":10.85,"s":"TFPPO"},{"x":1103,"y":10.7,"s":"TFPPO"},{"x":1098,"y":10.9,"s":"TFPPO"},{"x":1093,"y":11.05,"s":"TFPPO"},{"x":1088,"y":10.8,"s":"TFPPO"},{"x":1083,"y":11.0,"s":"TFPPO"},{"x":1078,"y":11.15,"s":"TFPPO"},{"x":1073,"y":10.95,"s":"TFPPO"},{"x":1068,"y":11.25,"s":"TFPPO"},{"x":1063,"y":11.1,"s":"TFPPO"},{"x":1058,"y":11.35,"s":"TFPPO"},{"x":1053,"y":11.2,"s":"TFPPO"},{"x":1049,"y":11.45,"s":"TFPPO"},{"x":1045,"y":11.3,"s":"TFPPO"},
{"x":1652,"y":5.5,"s":"TPPO"},{"x":1640,"y":5.55,"s":"TPPO"},{"x":1625,"y":5.5,"s":"TPPO"},{"x":1610,"y":5.52,"s":"TPPO"},{"x":1600,"y":5.45,"s":"TPPO"},{"x":1595,"y":5.3,"s":"TPPO"},{"x":1592,"y":5.0,"s":"TPPO"},{"x":1589,"y":5.3,"s":"TPPO"},{"x":1584,"y":5.5,"s":"TPPO"},{"x":1570,"y":5.55,"s":"TPPO"},{"x":1555,"y":5.5,"s":"TPPO"},{"x":1540,"y":5.52,"s":"TPPO"},{"x":1525,"y":5.5,"s":"TPPO"},{"x":1510,"y":5.48,"s":"TPPO"},{"x":1498,"y":5.45,"s":"TPPO"},{"x":1490,"y":5.35,"s":"TPPO"},{"x":1486,"y":5.1,"s":"TPPO"},{"x":1483,"y":4.95,"s":"TPPO"},{"x":1480,"y":5.3,"s":"TPPO"},{"x":1475,"y":5.55,"s":"TPPO"},{"x":1465,"y":5.6,"s":"TPPO"},{"x":1455,"y":5.55,"s":"TPPO"},{"x":1447,"y":5.5,"s":"TPPO"},{"x":1442,"y":5.2,"s":"TPPO"},{"x":1439.5,"y":3.5,"s":"TPPO"},{"x":1437,"y":1.3,"s":"TPPO"},{"x":1434.5,"y":2.8,"s":"TPPO"},{"x":1432,"y":5.2,"s":"TPPO"},{"x":1427,"y":5.5,"s":"TPPO"},{"x":1420,"y":5.55,"s":"TPPO"},{"x":1405,"y":5.5,"s":"TPPO"},{"x":1390,"y":5.52,"s":"TPPO"},{"x":1375,"y":5.5,"s":"TPPO"},{"x":1360,"y":5.48,"s":"TPPO"},{"x":1345,"y":5.5,"s":"TPPO"},{"x":1330,"y":5.52,"s":"TPPO"},{"x":1318,"y":5.45,"s":"TPPO"},{"x":1310,"y":5.3,"s":"TPPO"},{"x":1305,"y":5.2,"s":"TPPO"},{"x":1298,"y":5.4,"s":"TPPO"},{"x":1290,"y":5.5,"s":"TPPO"},{"x":1275,"y":5.52,"s":"TPPO"},{"x":1260,"y":5.5,"s":"TPPO"},{"x":1245,"y":5.55,"s":"TPPO"},{"x":1235,"y":5.6,"s":"TPPO"},{"x":1225,"y":5.7,"s":"TPPO"},{"x":1215,"y":5.9,"s":"TPPO"},{"x":1207,"y":5.95,"s":"TPPO"},{"x":1202,"y":5.7,"s":"TPPO"},{"x":1198,"y":4.5,"s":"TPPO"},{"x":1195,"y":2.0,"s":"TPPO"},{"x":1193,"y":1.6,"s":"TPPO"},{"x":1191,"y":3.0,"s":"TPPO"},{"x":1188.5,"y":4.8,"s":"TPPO"},{"x":1186,"y":4.5,"s":"TPPO"},{"x":1184,"y":3.6,"s":"TPPO"},{"x":1182,"y":4.0,"s":"TPPO"},{"x":1179,"y":5.5,"s":"TPPO"},{"x":1175,"y":6.2,"s":"TPPO"},{"x":1171,"y":6.2,"s":"TPPO"},{"x":1166,"y":6.3,"s":"TPPO"},{"x":1161,"y":6.1,"s":"TPPO"},{"x":1157,"y":6.25,"s":"TPPO"},{"x":1153,"y":6.2,"s":"TPPO"},{"x":1148,"y":6.0,"s":"TPPO"},{"x":1144,"y":5.85,"s":"TPPO"},{"x":1140,"y":6.0,"s":"TPPO"},{"x":1136,"y":6.15,"s":"TPPO"},{"x":1131,"y":5.8,"s":"TPPO"},{"x":1124,"y":4.0,"s":"TPPO"},{"x":1121,"y":2.6,"s":"TPPO"},{"x":1119,"y":2.45,"s":"TPPO"},{"x":1117,"y":3.5,"s":"TPPO"},{"x":1114,"y":5.3,"s":"TPPO"},{"x":1110,"y":6.0,"s":"TPPO"},{"x":1106,"y":6.1,"s":"TPPO"},{"x":1102,"y":5.7,"s":"TPPO"},{"x":1098,"y":5.5,"s":"TPPO"},{"x":1094,"y":5.3,"s":"TPPO"},{"x":1090,"y":5.4,"s":"TPPO"},{"x":1086,"y":5.2,"s":"TPPO"},{"x":1082,"y":5.35,"s":"TPPO"},{"x":1077,"y":5.5,"s":"TPPO"},{"x":1072,"y":5.25,"s":"TPPO"},{"x":1067,"y":5.45,"s":"TPPO"},{"x":1062,"y":5.6,"s":"TPPO"},{"x":1057,"y":5.5,"s":"TPPO"},{"x":1052,"y":5.75,"s":"TPPO"},{"x":1048,"y":5.9,"s":"TPPO"},{"x":1045,"y":5.8,"s":"TPPO"}
],
"dl": [{"x":1643,"y":11.1,"t":"TFPPO"},{"x":1643,"y":4.1,"t":"TPPO"}],
"dc": [{"x":1412,"y":8.77,"t":"1,410"},{"x":1255,"y":8.0,"t":"1,247"},{"x":1192,"y":6.17,"t":"1,193"},{"x":1119,"y":8.03,"t":"1,129"},{"x":1437,"y":0.6,"t":"1,437"},{"x":1192,"y":1.03,"t":"1,193"},{"x":1107,"y":1.7,"t":"1,119"}],
"e": [
{"x":1652,"y":9.8,"s":"TFPPO"},{"x":1640,"y":9.75,"s":"TFPPO"},{"x":1628,"y":9.7,"s":"TFPPO"},{"x":1618,"y":9.6,"s":"TFPPO"},{"x":1610,"y":9.5,"s":"TFPPO"},{"x":1602,"y":9.2,"s":"TFPPO"},{"x":1597,"y":8.6,"s":"TFPPO"},{"x":1593,"y":8.1,"s":"TFPPO"},{"x":1590,"y":7.95,"s":"TFPPO"},{"x":1587,"y":8.2,"s":"TFPPO"},{"x":1584,"y":8.0,"s":"TFPPO"},{"x":1580,"y":8.7,"s":"TFPPO"},{"x":1575,"y":9.3,"s":"TFPPO"},{"x":1568,"y":9.6,"s":"TFPPO"},{"x":1558,"y":9.75,"s":"TFPPO"},{"x":1545,"y":9.8,"s":"TFPPO"},{"x":1530,"y":9.75,"s":"TFPPO"},{"x":1518,"y":9.7,"s":"TFPPO"},{"x":1510,"y":9.5,"s":"TFPPO"},{"x":1505,"y":8.7,"s":"TFPPO"},{"x":1502,"y":7.85,"s":"TFPPO"},{"x":1500,"y":8.0,"s":"TFPPO"},{"x":1497,"y":9.0,"s":"TFPPO"},{"x":1493,"y":9.4,"s":"TFPPO"},{"x":1488,"y":9.3,"s":"TFPPO"},{"x":1484,"y":9.0,"s":"TFPPO"},{"x":1480,"y":9.3,"s":"TFPPO"},{"x":1474,"y":9.55,"s":"TFPPO"},{"x":1465,"y":9.6,"s":"TFPPO"},{"x":1455,"y":9.65,"s":"TFPPO"},{"x":1445,"y":9.6,"s":"TFPPO"},{"x":1435,"y":9.65,"s":"TFPPO"},{"x":1425,"y":9.6,"s":"TFPPO"},{"x":1415,"y":9.65,"s":"TFPPO"},{"x":1405,"y":9.55,"s":"TFPPO"},{"x":1399,"y":9.45,"s":"TFPPO"},{"x":1393,"y":9.6,"s":"TFPPO"},{"x":1380,"y":9.65,"s":"TFPPO"},{"x":1365,"y":9.7,"s":"TFPPO"},{"x":1350,"y":9.68,"s":"TFPPO"},{"x":1335,"y":9.72,"s":"TFPPO"},{"x":1320,"y":9.7,"s":"TFPPO"},{"x":1305,"y":9.75,"s":"TFPPO"},{"x":1290,"y":9.78,"s":"TFPPO"},{"x":1275,"y":9.8,"s":"TFPPO"},{"x":1262,"y":9.82,"s":"TFPPO"},{"x":1252,"y":9.85,"s":"TFPPO"},{"x":1244,"y":9.6,"s":"TFPPO"},{"x":1238,"y":9.2,"s":"TFPPO"},{"x":1234,"y":9.1,"s":"TFPPO"},{"x":1229,"y":9.4,"s":"TFPPO"},{"x":1222,"y":9.9,"s":"TFPPO"},{"x":1214,"y":10.0,"s":"TFPPO"},{"x":1206,"y":9.95,"s":"TFPPO"},{"x":1198,"y":9.9,"s":"TFPPO"},{"x":1193,"y":9.8,"s":"TFPPO"},{"x":1189,"y":9.6,"s":"TFPPO"},{"x":1185,"y":9.9,"s":"TFPPO"},{"x":1180,"y":10.2,"s":"TFPPO"},{"x":1172,"y":10.25,"s":"TFPPO"},{"x":1165,"y":10.3,"s":"TFPPO"},{"x":1160,"y":10.35,"s":"TFPPO"},{"x":1155,"y":10.2,"s":"TFPPO"},{"x":1150,"y":10.0,"s":"TFPPO"},{"x":1146,"y":10.2,"s":"TFPPO"},{"x":1140,"y":10.35,"s":"TFPPO"},{"x":1133,"y":10.45,"s":"TFPPO"},{"x":1127,"y":10.3,"s":"TFPPO"},{"x":1123,"y":9.8,"s":"TFPPO"},{"x":1120,"y":9.75,"s":"TFPPO"},{"x":1117,"y":10.3,"s":"TFPPO"},{"x":1112,"y":10.6,"s":"TFPPO"},{"x":1105,"y":10.75,"s":"TFPPO"},{"x":1098,"y":10.7,"s":"TFPPO"},{"x":1092,"y":10.85,"s":"TFPPO"},{"x":1086,"y":10.95,"s":"TFPPO"},{"x":1080,"y":10.9,"s":"TFPPO"},{"x":1074,"y":11.1,"s":"TFPPO"},{"x":1068,"y":11.2,"s":"TFPPO"},{"x":1062,"y":11.3,"s":"TFPPO"},{"x":1057,"y":11.4,"s":"TFPPO"},{"x":1052,"y":11.6,"s":"TFPPO"},{"x":1048,"y":11.8,"s":"TFPPO"},{"x":1045,"y":11.95,"s":"TFPPO"},
{"x":1652,"y":5.4,"s":"TPPO"},{"x":1640,"y":5.38,"s":"TPPO"},{"x":1625,"y":5.35,"s":"TPPO"},{"x":1612,"y":5.3,"s":"TPPO"},{"x":1602,"y":5.25,"s":"TPPO"},{"x":1596,"y":5.1,"s":"TPPO"},{"x":1592,"y":4.9,"s":"TPPO"},{"x":1588,"y":5.0,"s":"TPPO"},{"x":1584,"y":4.85,"s":"TPPO"},{"x":1578,"y":5.1,"s":"TPPO"},{"x":1570,"y":5.25,"s":"TPPO"},{"x":1560,"y":5.3,"s":"TPPO"},{"x":1545,"y":5.32,"s":"TPPO"},{"x":1530,"y":5.3,"s":"TPPO"},{"x":1518,"y":5.28,"s":"TPPO"},{"x":1508,"y":5.2,"s":"TPPO"},{"x":1500,"y":5.15,"s":"TPPO"},{"x":1494,"y":5.0,"s":"TPPO"},{"x":1489,"y":4.75,"s":"TPPO"},{"x":1484,"y":4.55,"s":"TPPO"},{"x":1480,"y":4.6,"s":"TPPO"},{"x":1476,"y":4.9,"s":"TPPO"},{"x":1470,"y":5.05,"s":"TPPO"},{"x":1462,"y":5.0,"s":"TPPO"},{"x":1455,"y":5.1,"s":"TPPO"},{"x":1448,"y":5.15,"s":"TPPO"},{"x":1443,"y":4.8,"s":"TPPO"},{"x":1440,"y":4.2,"s":"TPPO"},{"x":1437,"y":3.85,"s":"TPPO"},{"x":1435,"y":4.3,"s":"TPPO"},{"x":1432,"y":5.1,"s":"TPPO"},{"x":1427,"y":5.35,"s":"TPPO"},{"x":1418,"y":5.4,"s":"TPPO"},{"x":1405,"y":5.38,"s":"TPPO"},{"x":1390,"y":5.42,"s":"TPPO"},{"x":1375,"y":5.4,"s":"TPPO"},{"x":1360,"y":5.45,"s":"TPPO"},{"x":1345,"y":5.5,"s":"TPPO"},{"x":1330,"y":5.55,"s":"TPPO"},{"x":1315,"y":5.58,"s":"TPPO"},{"x":1300,"y":5.6,"s":"TPPO"},{"x":1285,"y":5.62,"s":"TPPO"},{"x":1270,"y":5.65,"s":"TPPO"},{"x":1255,"y":5.68,"s":"TPPO"},{"x":1240,"y":5.72,"s":"TPPO"},{"x":1228,"y":5.8,"s":"TPPO"},{"x":1218,"y":5.85,"s":"TPPO"},{"x":1208,"y":5.75,"s":"TPPO"},{"x":1198,"y":5.6,"s":"TPPO"},{"x":1192,"y":5.45,"s":"TPPO"},{"x":1188,"y":5.4,"s":"TPPO"},{"x":1183,"y":5.7,"s":"TPPO"},{"x":1176,"y":6.0,"s":"TPPO"},{"x":1168,"y":6.15,"s":"TPPO"},{"x":1160,"y":6.25,"s":"TPPO"},{"x":1152,"y":6.3,"s":"TPPO"},{"x":1145,"y":6.2,"s":"TPPO"},{"x":1138,"y":6.35,"s":"TPPO"},{"x":1132,"y":6.3,"s":"TPPO"},{"x":1127,"y":5.9,"s":"TPPO"},{"x":1123,"y":5.3,"s":"TPPO"},{"x":1120,"y":5.1,"s":"TPPO"},{"x":1117,"y":5.5,"s":"TPPO"},{"x":1113,"y":6.3,"s":"TPPO"},{"x":1107,"y":6.5,"s":"TPPO"},{"x":1100,"y":6.6,"s":"TPPO"},{"x":1094,"y":6.75,"s":"TPPO"},{"x":1088,"y":6.7,"s":"TPPO"},{"x":1082,"y":6.85,"s":"TPPO"},{"x":1076,"y":6.95,"s":"TPPO"},{"x":1070,"y":7.0,"s":"TPPO"},{"x":1064,"y":7.1,"s":"TPPO"},{"x":1058,"y":7.2,"s":"TPPO"},{"x":1052,"y":7.35,"s":"TPPO"},{"x":1048,"y":7.5,"s":"TPPO"},{"x":1045,"y":7.6,"s":"TPPO"},
{"x":1652,"y":2.45,"s":"Control"},{"x":1645,"y":2.42,"s":"Control"},{"x":1638,"y":2.46,"s":"Control"},{"x":1628,"y":2.42,"s":"Control"},{"x":1618,"y":2.4,"s":"Control"},{"x":1610,"y":2.35,"s":"Control"},{"x":1603,"y":2.2,"s":"Control"},{"x":1598,"y":2.0,"s":"Control"},{"x":1594,"y":1.75,"s":"Control"},{"x":1590,"y":1.7,"s":"Control"},{"x":1586,"y":1.85,"s":"Control"},{"x":1582,"y":1.78,"s":"Control"},{"x":1578,"y":1.72,"s":"Control"},{"x":1573,"y":1.75,"s":"Control"},{"x":1569,"y":1.95,"s":"Control"},{"x":1562,"y":2.25,"s":"Control"},{"x":1555,"y":2.35,"s":"Control"},{"x":1545,"y":2.42,"s":"Control"},{"x":1535,"y":2.38,"s":"Control"},{"x":1525,"y":2.42,"s":"Control"},{"x":1515,"y":2.38,"s":"Control"},{"x":1507,"y":2.3,"s":"Control"},{"x":1500,"y":2.1,"s":"Control"},{"x":1496,"y":1.8,"s":"Control"},{"x":1492,"y":1.6,"s":"Control"},{"x":1488,"y":1.55,"s":"Control"},{"x":1484,"y":1.4,"s":"Control"},{"x":1480,"y":1.35,"s":"Control"},{"x":1476,"y":1.45,"s":"Control"},{"x":1472,"y":1.55,"s":"Control"},{"x":1468,"y":1.65,"s":"Control"},{"x":1462,"y":2.0,"s":"Control"},{"x":1455,"y":2.25,"s":"Control"},{"x":1445,"y":2.35,"s":"Control"},{"x":1435,"y":2.42,"s":"Control"},{"x":1425,"y":2.38,"s":"Control"},{"x":1415,"y":2.44,"s":"Control"},{"x":1405,"y":2.42,"s":"Control"},{"x":1395,"y":2.48,"s":"Control"},{"x":1385,"y":2.46,"s":"Control"},{"x":1375,"y":2.52,"s":"Control"},{"x":1365,"y":2.5,"s":"Control"},{"x":1355,"y":2.56,"s":"Control"},{"x":1345,"y":2.54,"s":"Control"},{"x":1335,"y":2.6,"s":"Control"},{"x":1325,"y":2.62,"s":"Control"},{"x":1315,"y":2.6,"s":"Control"},{"x":1305,"y":2.68,"s":"Control"},{"x":1295,"y":2.66,"s":"Control"},{"x":1285,"y":2.72,"s":"Control"},{"x":1275,"y":2.7,"s":"Control"},{"x":1265,"y":2.76,"s":"Control"},{"x":1255,"y":2.74,"s":"Control"},{"x":1245,"y":2.8,"s":"Control"},{"x":1235,"y":2.82,"s":"Control"},{"x":1225,"y":2.8,"s":"Control"},{"x":1215,"y":2.87,"s":"Control"},{"x":1205,"y":2.85,"s":"Control"},{"x":1195,"y":2.92,"s":"Control"},{"x":1185,"y":2.9,"s":"Control"},{"x":1175,"y":2.98,"s":"Control"},{"x":1165,"y":2.95,"s":"Control"},{"x":1155,"y":3.02,"s":"Control"},{"x":1145,"y":3.0,"s":"Control"},{"x":1135,"y":3.08,"s":"Control"},{"x":1125,"y":3.05,"s":"Control"},{"x":1115,"y":3.12,"s":"Control"},{"x":1105,"y":3.1,"s":"Control"},{"x":1095,"y":3.18,"s":"Control"},{"x":1085,"y":3.15,"s":"Control"},{"x":1075,"y":3.25,"s":"Control"},{"x":1065,"y":3.22,"s":"Control"},{"x":1055,"y":3.3,"s":"Control"},{"x":1045,"y":3.35,"s":"Control"}
],
"el": [{"x":1644,"y":10.7,"t":"TFPPO"},{"x":1644,"y":6.27,"t":"TPPO"},{"x":1644,"y":3.2,"t":"Control"}],
"ec": [{"x":1383,"y":8.77,"t":"1,398"},{"x":1237,"y":8.5,"t":"1,235"},{"x":1168,"y":9.53,"t":"1,189"},{"x":1093,"y":8.87,"t":"1,119"},{"x":1183,"y":4.87,"t":"1,189"},{"x":1095,"y":4.37,"t":"1,119"},{"x":1435,"y":3.37,"t":"1,437"}]
},
"vconcat": [
{"hconcat": [
{"width": 81, "height": 127,
 "title": {"text": "a", "anchor": "start", "frame": "group", "dx": -15, "dy": 3, "fontSize": 11, "fontWeight": "bold", "color": "#000000", "offset": 1},
 "layer": [
 {"data": {"name": "a1"}, "mark": {"type": "line", "strokeWidth": 1.2, "interpolate": "monotone"},
  "encoding": {"x": {"field": "x", "type": "quantitative", "scale": {"domain": [25.01, 25.67], "reverse": true, "nice": false, "zero": false}, "axis": {"title": "Chemical shift (ppm)", "values": [25.5, 25.2], "format": ".1f", "labelOverlap": false}},
   "y": {"field": "y", "type": "quantitative", "scale": {"domain": [0, 5.2], "nice": false, "zero": false}, "axis": null},
   "color": {"field": "s", "type": "nominal", "scale": {"domain": ["MABr","PEABr","CsBr","PbBr2","pure","TFPPO","TPPO","Control"], "range": ["#8ee88e","#5cd65c","#22a522","#1a861a","#000000","#2eb82e","#1e8a1e","#000000"]}, "legend": null}}},
 {"data": {"name": "a1t"}, "mark": {"type": "text", "align": "left", "baseline": "middle", "fontSize": 9.5, "color": "#231f20"},
  "encoding": {"x": {"field": "x", "type": "quantitative", "scale": {"domain": [25.01, 25.67], "reverse": true, "nice": false, "zero": false}, "axis": {"title": "Chemical shift (ppm)", "values": [25.5, 25.2], "format": ".1f", "labelOverlap": false}}, "y": {"field": "y", "type": "quantitative", "scale": {"domain": [0, 5.2], "nice": false, "zero": false}, "axis": null}, "text": {"field": "t"}}}
 ]},
{"width": 84, "height": 127,
 "layer": [
 {"data": {"name": "a2"}, "mark": {"type": "line", "strokeWidth": 1.2, "interpolate": "monotone"},
  "encoding": {"x": {"field": "x", "type": "quantitative", "scale": {"domain": [23.56, 24.19], "reverse": true, "nice": false, "zero": false}, "axis": {"title": "Chemical shift (ppm)", "values": [24.0, 23.7], "format": ".1f", "labelOverlap": false}},
   "y": {"field": "y", "type": "quantitative", "scale": {"domain": [0, 5.2], "nice": false, "zero": false}, "axis": null},
   "color": {"field": "s", "type": "nominal", "scale": {"domain": ["MABr","PEABr","CsBr","PbBr2","pure","TFPPO","TPPO","Control"], "range": ["#8ee88e","#5cd65c","#22a522","#1a861a","#000000","#2eb82e","#1e8a1e","#000000"]}, "legend": null}}},
 {"data": {"name": "a2t"}, "mark": {"type": "text", "align": "left", "baseline": "middle", "fontSize": 9.5, "color": "#231f20"},
  "encoding": {"x": {"field": "x", "type": "quantitative", "scale": {"domain": [23.56, 24.19], "reverse": true, "nice": false, "zero": false}, "axis": {"title": "Chemical shift (ppm)", "values": [24.0, 23.7], "format": ".1f", "labelOverlap": false}}, "y": {"field": "y", "type": "quantitative", "scale": {"domain": [0, 5.2], "nice": false, "zero": false}, "axis": null}, "text": {"field": "t"}}}
 ]},
{"width": 157, "height": 127,
 "layer": [
 {"data": {"name": "a3"}, "mark": {"type": "line", "strokeWidth": 1, "interpolate": "linear"},
  "encoding": {"x": {"field": "x", "type": "quantitative", "scale": {"domain": [-107.27, -106.93], "reverse": true, "nice": false, "zero": false}, "axis": {"title": "Chemical shift (ppm)", "values": [-107.0, -107.1, -107.2], "format": ".1f", "labelOverlap": false}},
   "y": {"field": "y", "type": "quantitative", "scale": {"domain": [0, 5.2], "nice": false, "zero": false}, "axis": null},
   "color": {"field": "s", "type": "nominal", "scale": {"domain": ["MABr","PEABr","CsBr","PbBr2","pure","TFPPO","TPPO","Control"], "range": ["#8ee88e","#5cd65c","#22a522","#1a861a","#000000","#2eb82e","#1e8a1e","#000000"]}, "legend": null}}},
 {"data": {"name": "a3t"}, "mark": {"type": "text", "align": "left", "baseline": "middle", "fontSize": 9.5, "color": "#231f20"},
  "encoding": {"x": {"field": "x", "type": "quantitative", "scale": {"domain": [-107.27, -106.93], "reverse": true, "nice": false, "zero": false}, "axis": {"title": "Chemical shift (ppm)", "values": [-107.0, -107.1, -107.2], "format": ".1f", "labelOverlap": false}}, "y": {"field": "y", "type": "quantitative", "scale": {"domain": [0, 5.2], "nice": false, "zero": false}, "axis": null}, "text": {"field": "t"}}}
 ]}
], "spacing": 16, "bounds": "flush"},
{"hconcat": [
{"width": 157, "height": 127,
 "title": {"text": "b", "anchor": "start", "frame": "group", "dx": -15, "fontSize": 11, "fontWeight": "bold", "color": "#000000", "offset": 1},
 "layer": [
 {"data": {"name": "b"}, "mark": {"type": "line", "strokeWidth": 1.4, "interpolate": "monotone"},
  "encoding": {"x": {"field": "x", "type": "quantitative", "scale": {"domain": [134, 146], "reverse": true, "nice": false, "zero": false}, "axis": {"title": "Binding energy (eV)", "values": [146,144,142,140,138,136,134], "format": "d", "labelOverlap": false}},
   "y": {"field": "y", "type": "quantitative", "scale": {"domain": [0, 12.67], "nice": false, "zero": false}, "axis": {"title": "Normalized intensity", "labels": false, "ticks": false}},
   "color": {"field": "s", "type": "nominal", "scale": {"domain": ["MABr","PEABr","CsBr","PbBr2","pure","TFPPO","TPPO","Control"], "range": ["#8ee88e","#5cd65c","#22a522","#1a861a","#000000","#2eb82e","#1e8a1e","#000000"]}, "legend": null}}},
 {"data": {"name": "bl"}, "mark": {"type": "text", "align": "left", "baseline": "middle", "fontSize": 9.5, "color": "#231f20"},
  "encoding": {"x": {"field": "x", "type": "quantitative", "scale": {"domain": [134, 146], "reverse": true, "nice": false, "zero": false}, "axis": {"title": "Binding energy (eV)", "values": [146,144,142,140,138,136,134], "format": "d", "labelOverlap": false}}, "y": {"field": "y", "type": "quantitative", "scale": {"domain": [0, 12.67], "nice": false, "zero": false}, "axis": {"title": "Normalized intensity", "labels": false, "ticks": false}}, "text": {"field": "t"}}},
 {"data": {"name": "br"}, "mark": {"type": "text", "align": "right", "baseline": "middle", "fontSize": 9.5, "color": "#231f20"},
  "encoding": {"x": {"field": "x", "type": "quantitative", "scale": {"domain": [134, 146], "reverse": true, "nice": false, "zero": false}, "axis": {"title": "Binding energy (eV)", "values": [146,144,142,140,138,136,134], "format": "d", "labelOverlap": false}}, "y": {"field": "y", "type": "quantitative", "scale": {"domain": [0, 12.67], "nice": false, "zero": false}, "axis": {"title": "Normalized intensity", "labels": false, "ticks": false}}, "text": {"field": "t"}}}
 ]},
{"width": 157, "height": 127,
 "title": {"text": "c", "anchor": "start", "frame": "group", "dx": -15, "fontSize": 11, "fontWeight": "bold", "color": "#000000", "offset": 1},
 "layer": [
 {"data": {"name": "cc"}, "mark": {"type": "line", "strokeWidth": 0.9, "strokeDash": [1.2, 1.2], "opacity": 0.75, "interpolate": "monotone"},
  "encoding": {"x": {"field": "x", "type": "quantitative", "scale": {"domain": [62, 74], "reverse": true, "nice": false, "zero": false}, "axis": {"title": "Binding energy (eV)", "values": [74,72,70,68,66,64,62], "format": "d", "labelOverlap": false}},
   "y": {"field": "y", "type": "quantitative", "scale": {"domain": [0, 12.67], "nice": false, "zero": false}, "axis": {"title": "Normalized intensity", "labels": false, "ticks": false}},
   "detail": {"field": "c"},
   "color": {"field": "s", "type": "nominal", "scale": {"domain": ["MABr","PEABr","CsBr","PbBr2","pure","TFPPO","TPPO","Control"], "range": ["#8ee88e","#5cd65c","#22a522","#1a861a","#000000","#2eb82e","#1e8a1e","#000000"]}, "legend": null}}},
 {"data": {"name": "c"}, "mark": {"type": "line", "strokeWidth": 1.4, "interpolate": "monotone"},
  "encoding": {"x": {"field": "x", "type": "quantitative", "scale": {"domain": [62, 74], "reverse": true, "nice": false, "zero": false}, "axis": {"title": "Binding energy (eV)", "values": [74,72,70,68,66,64,62], "format": "d", "labelOverlap": false}},
   "y": {"field": "y", "type": "quantitative", "scale": {"domain": [0, 12.67], "nice": false, "zero": false}, "axis": {"title": "Normalized intensity", "labels": false, "ticks": false}},
   "color": {"field": "s", "type": "nominal", "scale": {"domain": ["MABr","PEABr","CsBr","PbBr2","pure","TFPPO","TPPO","Control"], "range": ["#8ee88e","#5cd65c","#22a522","#1a861a","#000000","#2eb82e","#1e8a1e","#000000"]}, "legend": null}}},
 {"data": {"name": "cl"}, "mark": {"type": "text", "align": "left", "baseline": "middle", "fontSize": 9.5, "color": "#231f20"},
  "encoding": {"x": {"field": "x", "type": "quantitative", "scale": {"domain": [62, 74], "reverse": true, "nice": false, "zero": false}, "axis": {"title": "Binding energy (eV)", "values": [74,72,70,68,66,64,62], "format": "d", "labelOverlap": false}}, "y": {"field": "y", "type": "quantitative", "scale": {"domain": [0, 12.67], "nice": false, "zero": false}, "axis": {"title": "Normalized intensity", "labels": false, "ticks": false}}, "text": {"field": "t"}}},
 {"data": {"name": "cr"}, "mark": {"type": "text", "align": "right", "baseline": "middle", "fontSize": 9.5, "color": "#231f20"},
  "encoding": {"x": {"field": "x", "type": "quantitative", "scale": {"domain": [62, 74], "reverse": true, "nice": false, "zero": false}, "axis": {"title": "Binding energy (eV)", "values": [74,72,70,68,66,64,62], "format": "d", "labelOverlap": false}}, "y": {"field": "y", "type": "quantitative", "scale": {"domain": [0, 12.67], "nice": false, "zero": false}, "axis": {"title": "Normalized intensity", "labels": false, "ticks": false}}, "text": {"field": "t"}}}
 ]}
], "spacing": 41, "bounds": "flush"},
{"hconcat": [
{"width": 157, "height": 126,
 "title": {"text": "d", "anchor": "start", "frame": "group", "dx": -15, "fontSize": 11, "fontWeight": "bold", "color": "#000000", "offset": 1},
 "layer": [
 {"data": {"name": "d"}, "mark": {"type": "line", "strokeWidth": 1, "interpolate": "linear"},
  "encoding": {"x": {"field": "x", "type": "quantitative", "scale": {"domain": [1045, 1652], "reverse": true, "nice": false, "zero": false}, "axis": {"title": "Wavenumber (cm⁻¹)", "values": [1600,1500,1400,1300,1200,1100], "format": ",d", "labelOverlap": false, "labelSeparation": -10}},
   "y": {"field": "y", "type": "quantitative", "scale": {"domain": [0, 12.6], "nice": false, "zero": false}, "axis": {"title": "Normalized transmittance", "labels": false, "ticks": false}},
   "color": {"field": "s", "type": "nominal", "scale": {"domain": ["MABr","PEABr","CsBr","PbBr2","pure","TFPPO","TPPO","Control"], "range": ["#8ee88e","#5cd65c","#22a522","#1a861a","#000000","#2eb82e","#1e8a1e","#000000"]}, "legend": null}}},
 {"data": {"name": "dl"}, "mark": {"type": "text", "align": "left", "baseline": "middle", "fontSize": 9.5, "color": "#231f20"},
  "encoding": {"x": {"field": "x", "type": "quantitative", "scale": {"domain": [1045, 1652], "reverse": true, "nice": false, "zero": false}, "axis": {"title": "Wavenumber (cm⁻¹)", "values": [1600,1500,1400,1300,1200,1100], "format": ",d", "labelOverlap": false, "labelSeparation": -10}}, "y": {"field": "y", "type": "quantitative", "scale": {"domain": [0, 12.6], "nice": false, "zero": false}, "axis": {"title": "Normalized transmittance", "labels": false, "ticks": false}}, "text": {"field": "t"}}},
 {"data": {"name": "dc"}, "mark": {"type": "text", "align": "center", "baseline": "middle", "fontSize": 9.5, "color": "#231f20"},
  "encoding": {"x": {"field": "x", "type": "quantitative", "scale": {"domain": [1045, 1652], "reverse": true, "nice": false, "zero": false}, "axis": {"title": "Wavenumber (cm⁻¹)", "values": [1600,1500,1400,1300,1200,1100], "format": ",d", "labelOverlap": false, "labelSeparation": -10}}, "y": {"field": "y", "type": "quantitative", "scale": {"domain": [0, 12.6], "nice": false, "zero": false}, "axis": {"title": "Normalized transmittance", "labels": false, "ticks": false}}, "text": {"field": "t"}}}
 ]},
{"width": 157, "height": 126,
 "title": {"text": "e", "anchor": "start", "frame": "group", "dx": -15, "fontSize": 11, "fontWeight": "bold", "color": "#000000", "offset": 1},
 "layer": [
 {"data": {"name": "e"}, "mark": {"type": "line", "strokeWidth": 1, "interpolate": "linear"},
  "encoding": {"x": {"field": "x", "type": "quantitative", "scale": {"domain": [1045, 1652], "reverse": true, "nice": false, "zero": false}, "axis": {"title": "Wavenumber (cm⁻¹)", "values": [1600,1500,1400,1300,1200,1100], "format": ",d", "labelOverlap": false, "labelSeparation": -10}},
   "y": {"field": "y", "type": "quantitative", "scale": {"domain": [0, 12.6], "nice": false, "zero": false}, "axis": {"title": "Normalized transmittance", "labels": false, "ticks": false}},
   "color": {"field": "s", "type": "nominal", "scale": {"domain": ["MABr","PEABr","CsBr","PbBr2","pure","TFPPO","TPPO","Control"], "range": ["#8ee88e","#5cd65c","#22a522","#1a861a","#000000","#2eb82e","#1e8a1e","#000000"]}, "legend": null}}},
 {"data": {"name": "el"}, "mark": {"type": "text", "align": "left", "baseline": "middle", "fontSize": 9.5, "color": "#231f20"},
  "encoding": {"x": {"field": "x", "type": "quantitative", "scale": {"domain": [1045, 1652], "reverse": true, "nice": false, "zero": false}, "axis": {"title": "Wavenumber (cm⁻¹)", "values": [1600,1500,1400,1300,1200,1100], "format": ",d", "labelOverlap": false, "labelSeparation": -10}}, "y": {"field": "y", "type": "quantitative", "scale": {"domain": [0, 12.6], "nice": false, "zero": false}, "axis": {"title": "Normalized transmittance", "labels": false, "ticks": false}}, "text": {"field": "t"}}},
 {"data": {"name": "ec"}, "mark": {"type": "text", "align": "center", "baseline": "middle", "fontSize": 9.5, "color": "#231f20"},
  "encoding": {"x": {"field": "x", "type": "quantitative", "scale": {"domain": [1045, 1652], "reverse": true, "nice": false, "zero": false}, "axis": {"title": "Wavenumber (cm⁻¹)", "values": [1600,1500,1400,1300,1200,1100], "format": ",d", "labelOverlap": false, "labelSeparation": -10}}, "y": {"field": "y", "type": "quantitative", "scale": {"domain": [0, 12.6], "nice": false, "zero": false}, "axis": {"title": "Normalized transmittance", "labels": false, "ticks": false}}, "text": {"field": "t"}}}
 ]}
], "spacing": 41, "bounds": "flush"}
],
"spacing": 1,
"config": {
 "font": "Liberation Sans",
 "view": {"stroke": "#231f20", "strokeWidth": 0.9},
 "axis": {"grid": false, "domain": false, "labelFontSize": 9, "titleFontSize": 9, "titleFontWeight": "normal", "labelColor": "#231f20", "titleColor": "#231f20", "tickColor": "#231f20", "tickSize": 3, "labelPadding": 1.5, "titlePadding": 3, "labelOverlap": false, "labelFlush": false, "labelBound": false},
 "axisY": {"titleColor": "#666666", "titlePadding": 3, "minExtent": 0},
 "text": {"font": "Liberation Sans"},
 "title": {"font": "Liberation Sans"}
}
}
